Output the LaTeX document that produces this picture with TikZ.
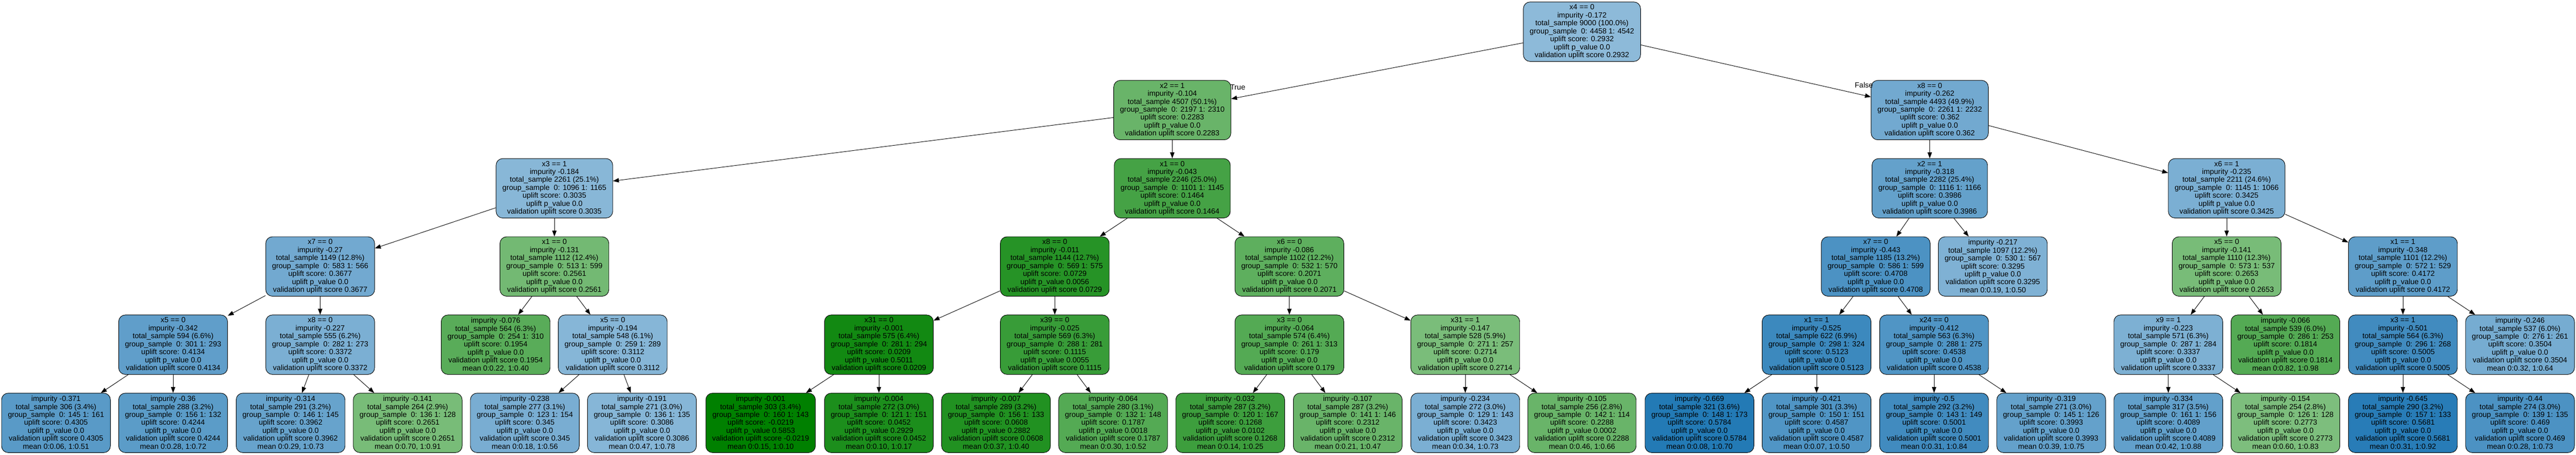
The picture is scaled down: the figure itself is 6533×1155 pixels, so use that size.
\documentclass[tikz,border=0pt]{standalone}
\usepackage{fontspec}
\setmainfont{Liberation Sans}
\usetikzlibrary{arrows.meta}
\definecolor{upblue}{RGB}{31,119,180}
\definecolor{upgreen}{RGB}{0,128,0}
\newcommand\tin[6]{#1\\impurity #2\\total\_sample #3\\group\_sample\ \ #4\\uplift score: #5\\uplift p\_value #6\\validation uplift score #5}
\newcommand\tlf[6]{impurity #1\\total\_sample #2\\group\_sample\ \ #3\\uplift score: #4\\uplift p\_value #5\\validation uplift score #4\\mean #6}
\newcommand\treefont{\fontsize{18.9pt}{20.2pt}\selectfont}
\tikzset{
  sc/.code={%
    \pgfmathsetmacro\scd{#1-0.285}%
    \pgfmathtruncatemacro\scpct{min(100,round(100*(0.5+1.63*abs(\scd))))}%
    \pgfmathtruncatemacro\scpos{(\scd>0)}%
    \ifnum\scpos=1 \edef\sctmp{\noexpand\pgfkeysalso{fill=upblue!\scpct!white}}%
    \else \edef\sctmp{\noexpand\pgfkeysalso{fill=upgreen!\scpct!white}}\fi
    \sctmp},
  tn/.style={draw=black, line width=1.2pt, rounded corners=17pt, align=center,
    minimum height=151pt, inner xsep=16pt, inner ysep=0pt, font=\treefont},
  edge/.style={line width=1.2pt, -{Triangle[length=15pt,width=11pt]}},
  lbl/.style={inner sep=0pt, font=\treefont}
}
\begin{document}
\setlength{\lineskiplimit}{-20pt}
\begin{tikzpicture}[x=1pt,y=-1pt]
\useasboundingbox (0,0) rectangle (6533,1155);
% level 0
\node[tn,sc=0.2932] (r) at (4012,80.5) {\tin{x4 == 0}{-0.172}{9000 (100.0\%)}{0: 4458 1: 4542}{0.2932}{0.0}};
% level 1
\node[tn,sc=0.2283] (a) at (2973,279.5) {\tin{x2 == 1}{-0.104}{4507 (50.1\%)}{0: 2197 1: 2310}{0.2283}{0.0}};
\node[tn,sc=0.362] (b) at (4894,279.5) {\tin{x8 == 0}{-0.262}{4493 (49.9\%)}{0: 2261 1: 2232}{0.362}{0.0}};
% level 2
\node[tn,sc=0.3035] (aa) at (1406,478) {\tin{x3 == 1}{-0.184}{2261 (25.1\%)}{0: 1096 1: 1165}{0.3035}{0.0}};
\node[tn,sc=0.1464] (ab) at (2973,478) {\tin{x1 == 0}{-0.043}{2246 (25.0\%)}{0: 1101 1: 1145}{0.1464}{0.0}};
\node[tn,sc=0.3986] (ba) at (4894,478) {\tin{x2 == 1}{-0.318}{2282 (25.4\%)}{0: 1116 1: 1166}{0.3986}{0.0}};
\node[tn,sc=0.3425] (bb) at (5647,478) {\tin{x6 == 1}{-0.235}{2211 (24.6\%)}{0: 1145 1: 1066}{0.3425}{0.0}};
% level 3
\node[tn,sc=0.3677] (aaa) at (812,676.5) {\tin{x7 == 0}{-0.27}{1149 (12.8\%)}{0: 583 1: 566}{0.3677}{0.0}};
\node[tn,sc=0.2561] (aab) at (1406,676.5) {\tin{x1 == 0}{-0.131}{1112 (12.4\%)}{0: 513 1: 599}{0.2561}{0.0}};
\node[tn,sc=0.0729] (aba) at (2675,676.5) {\tin{x8 == 0}{-0.011}{1144 (12.7\%)}{0: 569 1: 575}{0.0729}{0.0056}};
\node[tn,sc=0.2071] (abb) at (3270,676.5) {\tin{x6 == 0}{-0.086}{1102 (12.2\%)}{0: 532 1: 570}{0.2071}{0.0}};
\node[tn,sc=0.4708] (baa) at (4757,676.5) {\tin{x7 == 0}{-0.443}{1185 (13.2\%)}{0: 586 1: 599}{0.4708}{0.0}};
\node[tn,sc=0.3295] (bab) at (5054,676.5) {\tlf{-0.217}{1097 (12.2\%)}{0: 530 1: 567}{0.3295}{0.0}{0:0.19, 1:0.50}};
\node[tn,sc=0.2653] (bba) at (5647,676.5) {\tin{x5 == 0}{-0.141}{1110 (12.3\%)}{0: 573 1: 537}{0.2653}{0.0}};
\node[tn,sc=0.4172] (bbb) at (6094,676.5) {\tin{x1 == 1}{-0.348}{1101 (12.2\%)}{0: 572 1: 529}{0.4172}{0.0}};
% level 4
\node[tn,sc=0.4134] (aaaa) at (439,875) {\tin{x5 == 0}{-0.342}{594 (6.6\%)}{0: 301 1: 293}{0.4134}{0.0}};
\node[tn,sc=0.3372] (aaab) at (812,875) {\tin{x8 == 0}{-0.227}{555 (6.2\%)}{0: 282 1: 273}{0.3372}{0.0}};
\node[tn,sc=0.1954] (aaba) at (1257,875) {\tlf{-0.076}{564 (6.3\%)}{0: 254 1: 310}{0.1954}{0.0}{0:0.22, 1:0.40}};
\node[tn,sc=0.3112] (aabb) at (1554,875) {\tin{x5 == 0}{-0.194}{548 (6.1\%)}{0: 259 1: 289}{0.3112}{0.0}};
\node[tn,sc=0.0209] (abaa) at (2229,875) {\tin{x31 == 0}{-0.001}{575 (6.4\%)}{0: 281 1: 294}{0.0209}{0.5011}};
\node[tn,sc=0.1115] (abab) at (2675,875) {\tin{x39 == 0}{-0.025}{569 (6.3\%)}{0: 288 1: 281}{0.1115}{0.0055}};
\node[tn,sc=0.179] (abba) at (3270,875) {\tin{x3 == 0}{-0.064}{574 (6.4\%)}{0: 261 1: 313}{0.179}{0.0}};
\node[tn,sc=0.2714] (abbb) at (3716,875) {\tin{x31 == 1}{-0.147}{528 (5.9\%)}{0: 271 1: 257}{0.2714}{0.0}};
\node[tn,sc=0.5123] (baaa) at (4607,875) {\tin{x1 == 1}{-0.525}{622 (6.9\%)}{0: 298 1: 324}{0.5123}{0.0}};
\node[tn,sc=0.4538] (baab) at (4905,875) {\tin{x24 == 0}{-0.412}{563 (6.3\%)}{0: 288 1: 275}{0.4538}{0.0}};
\node[tn,sc=0.3337] (bbaa) at (5499,875) {\tin{x9 == 1}{-0.223}{571 (6.3\%)}{0: 287 1: 284}{0.3337}{0.0}};
\node[tn,sc=0.1814] (bbab) at (5796,875) {\tlf{-0.066}{539 (6.0\%)}{0: 286 1: 253}{0.1814}{0.0}{0:0.82, 1:0.98}};
\node[tn,sc=0.5005] (bbba) at (6094,875) {\tin{x3 == 1}{-0.501}{564 (6.3\%)}{0: 296 1: 268}{0.5005}{0.0}};
\node[tn,sc=0.3504] (bbbb) at (6391,875) {\tlf{-0.246}{537 (6.0\%)}{0: 276 1: 261}{0.3504}{0.0}{0:0.32, 1:0.64}};
% level 5
\node[tn,sc=0.4305] (aaaaa) at (142,1073.5) {\tlf{-0.371}{306 (3.4\%)}{0: 145 1: 161}{0.4305}{0.0}{0:0.06, 1:0.51}};
\node[tn,sc=0.4244] (aaaab) at (439,1073.5) {\tlf{-0.36}{288 (3.2\%)}{0: 156 1: 132}{0.4244}{0.0}{0:0.28, 1:0.72}};
\node[tn,sc=0.3962] (aaaba) at (737,1073.5) {\tlf{-0.314}{291 (3.2\%)}{0: 146 1: 145}{0.3962}{0.0}{0:0.29, 1:0.73}};
\node[tn,sc=0.2651] (aaabb) at (1034,1073.5) {\tlf{-0.141}{264 (2.9\%)}{0: 136 1: 128}{0.2651}{0.0}{0:0.70, 1:0.91}};
\node[tn,sc=0.345] (aabba) at (1331,1073.5) {\tlf{-0.238}{277 (3.1\%)}{0: 123 1: 154}{0.345}{0.0}{0:0.18, 1:0.56}};
\node[tn,sc=0.3086] (aabbb) at (1628,1073.5) {\tlf{-0.191}{271 (3.0\%)}{0: 136 1: 135}{0.3086}{0.0}{0:0.47, 1:0.78}};
\node[tn,sc=-0.0219] (abaaa) at (1929,1073.5) {\tlf{-0.001}{303 (3.4\%)}{0: 160 1: 143}{-0.0219}{0.5853}{0:0.15, 1:0.10}};
\node[tn,sc=0.0452] (abaab) at (2229,1073.5) {\tlf{-0.004}{272 (3.0\%)}{0: 121 1: 151}{0.0452}{0.2929}{0:0.10, 1:0.17}};
\node[tn,sc=0.0608] (ababa) at (2526,1073.5) {\tlf{-0.007}{289 (3.2\%)}{0: 156 1: 133}{0.0608}{0.2882}{0:0.37, 1:0.40}};
\node[tn,sc=0.1787] (ababb) at (2823,1073.5) {\tlf{-0.064}{280 (3.1\%)}{0: 132 1: 148}{0.1787}{0.0018}{0:0.30, 1:0.52}};
\node[tn,sc=0.1268] (abbaa) at (3120,1073.5) {\tlf{-0.032}{287 (3.2\%)}{0: 120 1: 167}{0.1268}{0.0102}{0:0.14, 1:0.25}};
\node[tn,sc=0.2312] (abbab) at (3418,1073.5) {\tlf{-0.107}{287 (3.2\%)}{0: 141 1: 146}{0.2312}{0.0}{0:0.21, 1:0.47}};
\node[tn,sc=0.3423] (abbba) at (3716,1073.5) {\tlf{-0.234}{272 (3.0\%)}{0: 129 1: 143}{0.3423}{0.0}{0:0.34, 1:0.73}};
\node[tn,sc=0.2288] (abbbb) at (4012,1073.5) {\tlf{-0.105}{256 (2.8\%)}{0: 142 1: 114}{0.2288}{0.0002}{0:0.46, 1:0.66}};
\node[tn,sc=0.5784] (baaaa) at (4310,1073.5) {\tlf{-0.669}{321 (3.6\%)}{0: 148 1: 173}{0.5784}{0.0}{0:0.08, 1:0.70}};
\node[tn,sc=0.4587] (baaab) at (4607,1073.5) {\tlf{-0.421}{301 (3.3\%)}{0: 150 1: 151}{0.4587}{0.0}{0:0.07, 1:0.50}};
\node[tn,sc=0.5001] (baaba) at (4905,1073.5) {\tlf{-0.5}{292 (3.2\%)}{0: 143 1: 149}{0.5001}{0.0}{0:0.31, 1:0.84}};
\node[tn,sc=0.3993] (baabb) at (5202,1073.5) {\tlf{-0.319}{271 (3.0\%)}{0: 145 1: 126}{0.3993}{0.0}{0:0.39, 1:0.75}};
\node[tn,sc=0.4089] (bbaaa) at (5499,1073.5) {\tlf{-0.334}{317 (3.5\%)}{0: 161 1: 156}{0.4089}{0.0}{0:0.42, 1:0.88}};
\node[tn,sc=0.2773] (bbaab) at (5796,1073.5) {\tlf{-0.154}{254 (2.8\%)}{0: 126 1: 128}{0.2773}{0.0}{0:0.60, 1:0.83}};
\node[tn,sc=0.5681] (bbbaa) at (6094,1073.5) {\tlf{-0.645}{290 (3.2\%)}{0: 157 1: 133}{0.5681}{0.0}{0:0.31, 1:0.92}};
\node[tn,sc=0.469] (bbbab) at (6391,1073.5) {\tlf{-0.44}{274 (3.0\%)}{0: 139 1: 135}{0.469}{0.0}{0:0.28, 1:0.73}};
% edges
\foreach \p/\c in {r/a, r/b, a/aa, a/ab, b/ba, b/bb,
  aa/aaa, aa/aab, ab/aba, ab/abb, ba/baa, ba/bab, bb/bba, bb/bbb,
  aaa/aaaa, aaa/aaab, aab/aaba, aab/aabb, aba/abaa, aba/abab, abb/abba, abb/abbb,
  baa/baaa, baa/baab, bba/bbaa, bba/bbab, bbb/bbba, bbb/bbbb,
  aaaa/aaaaa, aaaa/aaaab, aaab/aaaba, aaab/aaabb, aabb/aabba, aabb/aabbb,
  abaa/abaaa, abaa/abaab, abab/ababa, abab/ababb, abba/abbaa, abba/abbab,
  abbb/abbba, abbb/abbbb, baaa/baaaa, baaa/baaab, baab/baaba, baab/baabb,
  bbaa/bbaaa, bbaa/bbaab, bbba/bbbaa, bbba/bbbab}
  \draw[edge] (\p) -- (\c);
% edge labels
\node[lbl] (tl) at (3139,221) {True};
\node[lbl] (fl) at (4727,216) {False};
\end{tikzpicture}
\end{document}
